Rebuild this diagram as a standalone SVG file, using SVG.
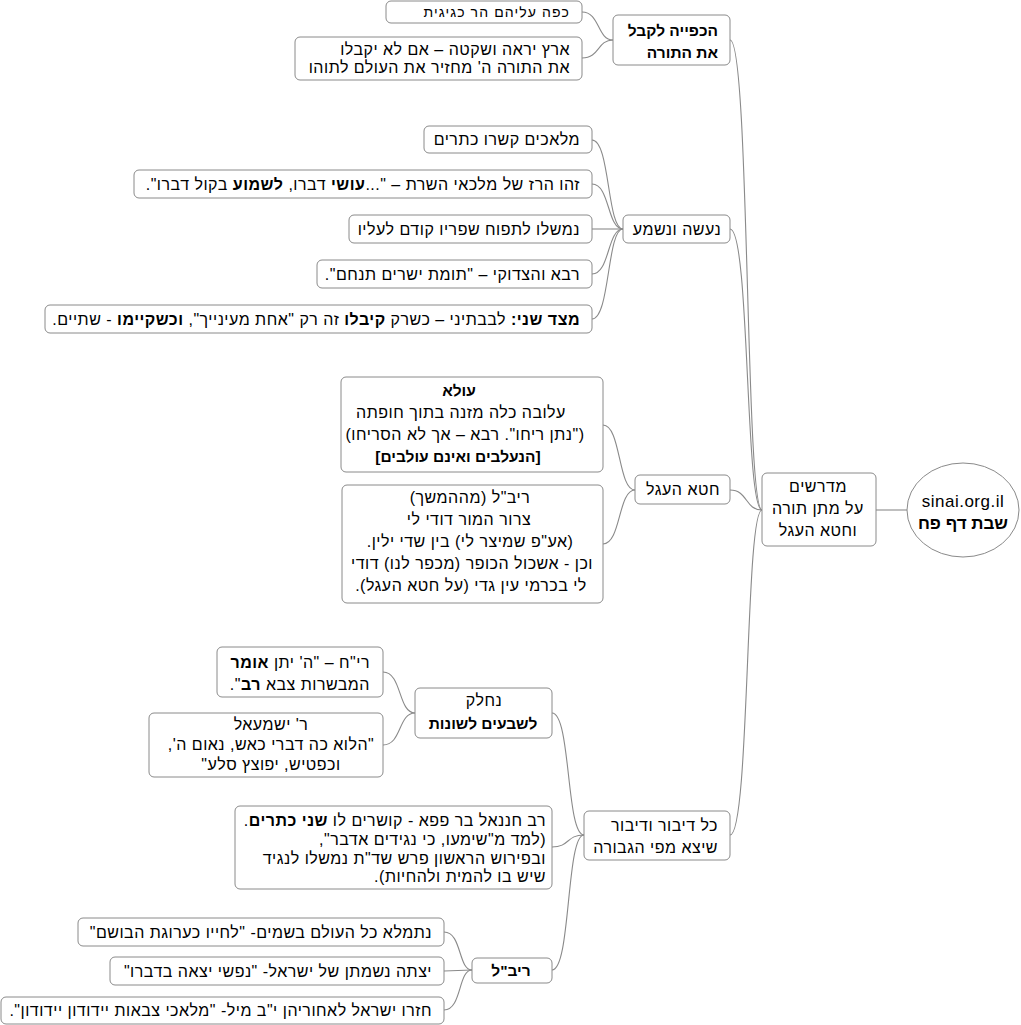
<svg xmlns="http://www.w3.org/2000/svg" width="1021" height="1025" viewBox="0 0 1021 1025">
<style>
.box{fill:#fff;stroke:#8a8a8a;stroke-width:1}
.c{fill:none;stroke:#8a8a8a;stroke-width:1.1}
text{font-family:"Liberation Sans",Arial,"DejaVu Sans",sans-serif;font-size:16px;letter-spacing:0.5px;fill:#000}
.r{direction:rtl;text-anchor:start}
.m{direction:rtl;text-anchor:middle}
.b{font-weight:bold}
.h{font-weight:bold;font-size:15.5px;letter-spacing:0}
</style>
<rect width="1021" height="1025" fill="#fff"/>
<g id="connectors">
<path class="c" d="M876,510 L908,510"/>
<path class="c" d="M730,40 C750,40 745,510 762,510"/>
<path class="c" d="M730,229 C750,229 745,510 762,510"/>
<path class="c" d="M730,490 C748,490 745,510 762,510"/>
<path class="c" d="M730,835 C750,835 745,510 762,510"/>
<path class="c" d="M582,12 C600,12 597,40 613,40"/>
<path class="c" d="M582,58 C600,58 597,40 613,40"/>
<path class="c" d="M592,140 C610,140 607,229 623,229"/>
<path class="c" d="M592,184 C610,184 607,229 623,229"/>
<path class="c" d="M592,229 L623,229"/>
<path class="c" d="M592,274 C610,274 607,229 623,229"/>
<path class="c" d="M592,319 C610,319 607,229 623,229"/>
<path class="c" d="M603,425 C621,425 618,490 635,490"/>
<path class="c" d="M603,544 C621,544 618,490 635,490"/>
<path class="c" d="M552,713 C571,713 566,835 584,835"/>
<path class="c" d="M552,847 C570,847 566,835 584,835"/>
<path class="c" d="M552,970 C571,970 566,835 584,835"/>
<path class="c" d="M383,672 C402,672 398,713 415,713"/>
<path class="c" d="M383,745 C402,745 398,713 415,713"/>
<path class="c" d="M444,932 C462,932 458,970 472,970"/>
<path class="c" d="M444,971 L472,970"/>
<path class="c" d="M444,1010 C462,1010 458,970 472,970"/>
</g>
<g id="root">
<ellipse class="box" cx="963" cy="510" rx="56" ry="47"/>
<text x="963" y="507" text-anchor="middle" style="font-size:17px;letter-spacing:0.5px">sinai.org.il</text>
<text class="m b" x="963" y="529" style="font-size:17px;letter-spacing:0">שבת דף פח</text>
</g>
<g id="main">
<rect class="box" x="762" y="473" width="114" height="73" rx="5"/>
<text class="m" x="818" y="492">מדרשים</text>
<text class="m" x="818" y="514">על מתן תורה</text>
<text class="m" x="818" y="536">וחטא העגל</text>
</g>
<g id="kefia">
<rect class="box" x="613" y="15" width="117" height="50" rx="5"/>
<text class="r h" x="718" y="36">הכפייה לקבל</text>
<text class="r h" x="718" y="58">את התורה</text>
</g>
<g id="kafa">
<rect class="box" x="386" y="1" width="196" height="22" rx="5"/>
<text class="r" x="570" y="17" style="font-size:14px;letter-spacing:1.1px">כפה עליהם הר כגיגית</text>
</g>
<g id="eretz">
<rect class="box" x="295" y="37" width="287" height="43" rx="5"/>
<text class="r" x="570" y="55">ארץ יראה ושקטה – אם לא יקבלו</text>
<text class="r" x="570" y="73">את התורה  ה' מחזיר את העולם לתוהו</text>
</g>
<g id="naase">
<rect class="box" x="623" y="215" width="107" height="28" rx="5"/>
<text class="m" x="677" y="235">נעשה ונשמע</text>
</g>
<g id="malachim">
<rect class="box" x="424" y="126" width="168" height="27" rx="5"/>
<text class="r" x="580" y="145">מלאכים קשרו כתרים</text>
</g>
<g id="raz">
<rect class="box" x="134" y="170" width="458" height="28" rx="5"/>
<text class="r" x="580" y="190">זהו הרז של מלכאי השרת – "...<tspan class="b">עושי</tspan>  דברו, <tspan class="b">לשמוע</tspan> בקול דברו".</text>
</g>
<g id="tapuach">
<rect class="box" x="349" y="215" width="243" height="28" rx="5"/>
<text class="r" x="580" y="235">נמשלו לתפוח שפריו קודם לעליו</text>
</g>
<g id="rava">
<rect class="box" x="317" y="260" width="275" height="28" rx="5"/>
<text class="r" x="580" y="280">רבא והצדוקי – "תומת ישרים תנחם".</text>
</g>
<g id="mitzad">
<rect class="box" x="45" y="305" width="547" height="28" rx="5"/>
<text class="r" x="580" y="325"><tspan class="b">מצד שני:</tspan> לבבתיני – כשרק <tspan class="b">קיבלו</tspan>  זה רק "אחת מעינייך", <tspan class="b">וכשקיימו</tspan>  - שתיים.</text>
</g>
<g id="chet">
<rect class="box" x="635" y="475" width="95" height="29" rx="5"/>
<text class="m" x="683" y="495">חטא העגל</text>
</g>
<g id="ula">
<rect class="box" x="341" y="377" width="262" height="95" rx="5"/>
<text class="m h" x="459" y="396">עולא</text>
<text class="m" x="461" y="418">עלובה כלה מזנה בתוך חופתה</text>
<text class="m" x="465" y="440">("נתן ריחו". רבא – אך לא הסריחו)</text>
<text class="m h" x="458" y="462">[הנעלבים ואינם עולבים]</text>
</g>
<g id="ribal1">
<rect class="box" x="342" y="485" width="261" height="118" rx="5"/>
<text class="m" x="470" y="503">ריב"ל (מההמשך)</text>
<text class="m" x="469" y="525">צרור המור דודי לי</text>
<text class="m" x="470" y="547">(אע"פ שמיצר לי)  בין שדי ילין.</text>
<text class="m" x="472" y="569">וכן - אשכול הכופר (מכפר לנו) דודי</text>
<text class="m" x="471" y="591">לי בכרמי עין גדי (על חטא העגל).</text>
</g>
<g id="kol">
<rect class="box" x="584" y="811" width="146" height="49" rx="5"/>
<text class="r" x="718" y="831">כל דיבור ודיבור</text>
<text class="r" x="718" y="853">שיצא מפי הגבורה</text>
</g>
<g id="nechlak">
<rect class="box" x="415" y="688" width="137" height="50" rx="5"/>
<text class="m" x="484" y="706">נחלק</text>
<text class="m h" x="483" y="729">לשבעים לשונות</text>
</g>
<g id="rich">
<rect class="box" x="217" y="647" width="166" height="50" rx="5"/>
<text class="r" x="370" y="668">רי"ח – "ה' יתן <tspan class="b">אומר</tspan></text>
<text class="r" x="370" y="690">המבשרות צבא <tspan class="b">רב</tspan>".</text>
</g>
<g id="yishmael">
<rect class="box" x="149" y="713" width="234" height="64" rx="5"/>
<text class="m" x="271" y="730">ר' ישמעאל</text>
<text class="m" x="271" y="750">"הלוא כה דברי כאש, נאום ה',</text>
<text class="m" x="271" y="770">וכפטיש, יפוצץ סלע"</text>
</g>
<g id="chananel">
<rect class="box" x="235" y="806" width="317" height="83" rx="5"/>
<text class="r" x="546" y="826">רב חננאל בר פפא - קושרים לו <tspan class="b">שני כתרים</tspan>.</text>
<text class="r" x="546" y="845">(למד מ"שימעו, כי נגידים אדבר",</text>
<text class="r" x="546" y="864">ובפירוש הראשון פרש שד"ת נמשלו לנגיד</text>
<text class="r" x="546" y="882">שיש בו להמית ולהחיות).</text>
</g>
<g id="ribal2">
<rect class="box" x="472" y="958" width="80" height="25" rx="5"/>
<text class="m h" x="511" y="976">ריב"ל</text>
</g>
<g id="nitmale">
<rect class="box" x="78" y="918" width="366" height="28" rx="5"/>
<text class="r" x="432" y="938">נתמלא כל העולם בשמים- "לחייו כערוגת הבושם"</text>
</g>
<g id="yatza">
<rect class="box" x="110" y="957" width="334" height="28" rx="5"/>
<text class="r" x="432" y="977">יצתה נשמתן של ישראל- "נפשי יצאה בדברו"</text>
</g>
<g id="chazru">
<rect class="box" x="1" y="997" width="443" height="27" rx="5"/>
<text class="r" x="432" y="1016">חזרו ישראל לאחוריהן י"ב מיל- "מלאכי צבאות יידודון יידודון".</text>
</g>
</svg>
